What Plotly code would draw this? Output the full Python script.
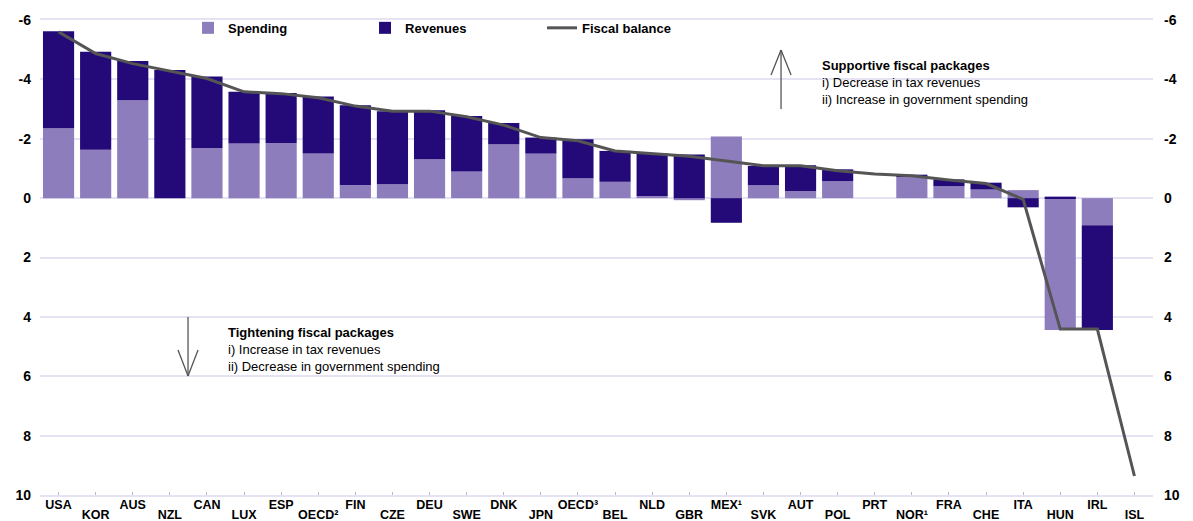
import plotly.graph_objects as go

# ---- data (negative = supportive / loosening, shown upward) ----
countries = ["USA", "KOR", "AUS", "NZL", "CAN", "LUX", "ESP", "OECD²", "FIN", "CZE",
             "DEU", "SWE", "DNK", "JPN", "OECD³", "BEL", "NLD", "GBR", "MEX¹", "SVK",
             "AUT", "POL", "PRT", "NOR¹", "FRA", "CHE", "ITA", "HUN", "IRL", "ISL"]
spending = [-2.35, -1.63, -3.30, 0.0, -1.69, -1.84, -1.86, -1.50, -0.43, -0.47,
            -1.31, -0.90, -1.82, -1.50, -0.67, -0.55, -0.07, 0.07, -2.08, -0.43,
            -0.24, -0.57, None, -0.74, -0.40, -0.29, -0.27, 4.44, 0.91, None]
revenues = [-3.27, -3.30, -1.32, -4.32, -2.41, -1.74, -1.68, -1.92, -2.70, -2.46,
            -1.65, -1.87, -0.71, -0.54, -1.31, -1.04, -1.43, -1.47, 0.83, -0.65,
            -0.87, -0.40, None, -0.05, -0.23, -0.23, 0.31, -0.05, 3.53, None]
fiscal_balance = [-5.60, -4.87, -4.53, -4.28, -4.03, -3.58, -3.52, -3.38, -3.10, -2.93,
                  -2.93, -2.74, -2.46, -2.04, -1.93, -1.59, -1.50, -1.41, -1.25, -1.09,
                  -1.09, -0.92, -0.81, -0.75, -0.61, -0.49, 0.04, 4.41, 4.41, 9.36]
y_ticks = [-6, -4, -2, 0, 2, 4, 6, 8, 10]
y_ticktext = ["-6", "-4", "-2", "0", "2", "4", "6", "8", "10"]

SPEND_C = "#8e7dbc"
REV_C = "#230a78"
LINE_C = "#555555"
GRID_C = "#e4e2f3"
FONT = "Liberation Sans, Arial, sans-serif"

row1_labels = [c if i % 2 == 0 else "" for i, c in enumerate(countries)]
row2_labels = [c if i % 2 == 1 else "" for i, c in enumerate(countries)]

fig = go.Figure()
fig.add_trace(go.Bar(x=countries, y=spending, name="<b>Spending</b>",
                     marker=dict(color=SPEND_C, line=dict(width=0))))
fig.add_trace(go.Bar(x=countries, y=revenues, name="<b>Revenues</b>",
                     marker=dict(color=REV_C, line=dict(width=0))))
fig.add_trace(go.Scatter(x=countries, y=fiscal_balance, name="<b>Fiscal balance</b>",
                         mode="lines", line=dict(color=LINE_C, width=3)))
# invisible helper to activate the mirrored right axis and second label row
fig.add_trace(go.Scatter(x=countries, y=fiscal_balance, xaxis="x2", yaxis="y2", mode="lines",
                         line=dict(width=0), opacity=0, showlegend=False, hoverinfo="skip"))

tickfont = dict(size=12.5, family=FONT, color="black", weight="bold")
yfont = dict(size=14, family=FONT, color="black", weight="bold")

fig.update_layout(
    width=1193, height=521,
    margin=dict(l=40, r=40, t=20, b=26),
    plot_bgcolor="white", paper_bgcolor="white",
    barmode="relative", bargap=0.16,
    font=dict(family=FONT, color="black", size=13),
    legend=dict(orientation="h", x=0.133, y=1.015, xanchor="left", yanchor="top",
                bgcolor="rgba(0,0,0,0)", font=dict(size=13, family=FONT),
                entrywidth=132, entrywidthmode="pixels", traceorder="normal"),
    xaxis=dict(type="category", range=[-0.5, 29.5], tickvals=countries,
               ticktext=row1_labels, tickangle=0, showgrid=False,
               showline=True, linecolor=GRID_C, linewidth=1.5, mirror=True,
               ticks="inside", ticklen=3, tickcolor="#b8b8c8",
               ticklabelstandoff=-3, tickfont=tickfont, automargin=False),
    xaxis2=dict(type="category", range=[-0.5, 29.5], tickvals=countries,
                ticktext=row2_labels, tickangle=0, showgrid=False, showline=False,
                overlaying="x", anchor="y", side="bottom", ticks="",
                ticklabelstandoff=10, tickfont=tickfont, automargin=False),
    yaxis=dict(range=[10, -6], tickvals=y_ticks, ticktext=y_ticktext,
               showgrid=True, gridcolor=GRID_C, gridwidth=1.5,
               zeroline=True, zerolinecolor=GRID_C, zerolinewidth=1.5,
               showline=False, ticks="", ticklabelstandoff=8,
               tickfont=yfont, automargin=False),
    yaxis2=dict(range=[10, -6], tickvals=y_ticks, ticktext=y_ticktext,
                overlaying="y", anchor="x", side="right", showgrid=False, zeroline=False,
                showline=False, ticks="", ticklabelstandoff=10,
                tickfont=yfont, automargin=False),
    showlegend=True,
)

# annotations
fig.add_annotation(xref="paper", yref="paper", x=0.701, y=0.925,
                   xanchor="left", yanchor="top", align="left", showarrow=False,
                   text="<b>Supportive fiscal packages</b><br>i) Decrease in tax revenues<br>ii) Increase in government spending",
                   font=dict(size=13, family=FONT, color="black"))
fig.add_annotation(xref="paper", yref="paper", x=0.167, y=0.362,
                   xanchor="left", yanchor="top", align="left", showarrow=False,
                   text="<b>Tightening fiscal packages</b><br>i) Increase in tax revenues<br>ii) Decrease in government spending",
                   font=dict(size=13, family=FONT, color="black"))

ARC = "#555555"
# up arrow
ux = 0.6658
fig.add_shape(type="line", xref="paper", yref="paper", x0=ux, x1=ux, y0=0.8126, y1=0.9368,
              line=dict(color=ARC, width=1.3))
fig.add_shape(type="line", xref="paper", yref="paper", x0=ux - 0.009, x1=ux, y0=0.884, y1=0.9368,
              line=dict(color=ARC, width=1.3))
fig.add_shape(type="line", xref="paper", yref="paper", x0=ux + 0.009, x1=ux, y0=0.884, y1=0.9368,
              line=dict(color=ARC, width=1.3))
# down arrow
dx = 0.133
fig.add_shape(type="line", xref="paper", yref="paper", x0=dx, x1=dx, y0=0.3747, y1=0.2505,
              line=dict(color=ARC, width=1.3))
fig.add_shape(type="line", xref="paper", yref="paper", x0=dx - 0.009, x1=dx, y0=0.3053, y1=0.2505,
              line=dict(color=ARC, width=1.3))
fig.add_shape(type="line", xref="paper", yref="paper", x0=dx + 0.009, x1=dx, y0=0.3053, y1=0.2505,
              line=dict(color=ARC, width=1.3))

fig.write_html("out.html", config={"displayModeBar": False},
               post_script="document.body.style.margin='0';")
